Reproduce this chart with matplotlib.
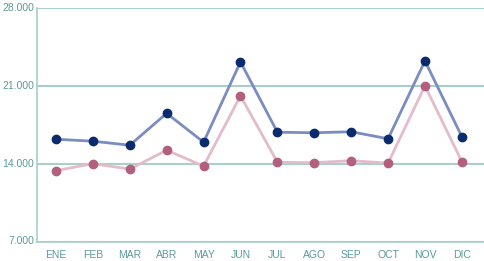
import matplotlib.pyplot as plt
from matplotlib.ticker import FuncFormatter

months = ["ENE", "FEB", "MAR", "ABR", "MAY", "JUN", "JUL", "AGO", "SEP", "OCT", "NOV", "DIC"]
serie_a = [16200, 16020, 15660, 18530, 15930, 23150, 16830, 16780, 16870, 16240, 23240, 16420]
serie_b = [13370, 14000, 13510, 15210, 13780, 20100, 14130, 14090, 14270, 14050, 21000, 14180]
y_ticks = [7000, 14000, 21000, 28000]

grid_col = "#a8d0c8"
text_col = "#5a9a9a"

plt.rcParams['font.family'] = ['Liberation Sans', 'DejaVu Sans']

fig = plt.figure(figsize=(4.84, 2.61), dpi=100)
ax = fig.add_axes([37 / 484, 19.5 / 261, 447 / 484, 233.5 / 261])

x = range(len(months))
ax.plot(x, serie_b, color="#e3bccb", lw=2, zorder=3)
ax.plot(x, serie_b, "o", color="#b2607e", ms=6, zorder=4)
ax.plot(x, serie_a, color="#7b8dc0", lw=2, zorder=3)
ax.plot(x, serie_a, "o", color="#0a2b6e", ms=6, zorder=4)

ax.set_xlim(-0.515, 11.6)
ax.set_ylim(7000, 28000)
ax.set_yticks(y_ticks)
ax.yaxis.set_major_formatter(FuncFormatter(lambda v, p: "{:,.3f}".format(v / 1000).replace(",", "")))
ax.set_xticks(list(x))
ax.set_xticklabels(months)
ax.grid(axis="y", color=grid_col, lw=1.5, zorder=1)

for s in ["top", "right"]:
    ax.spines[s].set_visible(False)
for s in ["left", "bottom"]:
    ax.spines[s].set_color(grid_col)
    ax.spines[s].set_linewidth(1.2)

ax.tick_params(axis="both", length=0, colors=text_col, labelsize=7.5)
ax.tick_params(axis="y", pad=2)
ax.tick_params(axis="x", pad=6)
for lab in ax.get_yticklabels():
    lab.set_verticalalignment("center")

fig.savefig("out.png", dpi=100)
